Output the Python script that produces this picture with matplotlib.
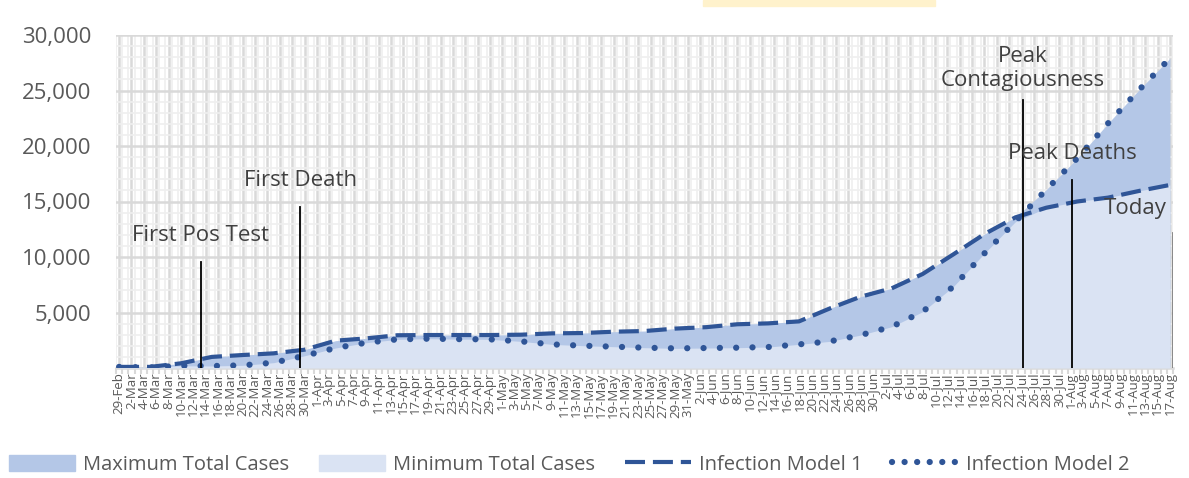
import matplotlib
matplotlib.use('Agg')
import matplotlib.pyplot as plt
from matplotlib.patches import Patch, Rectangle
from matplotlib.lines import Line2D
import numpy as np
import pandas as pd

plt.rcParams['font.family'] = ['Open Sans', 'DejaVu Sans']

# %% data
dates = pd.date_range('2020-02-29', '2020-08-17', freq='D')
labels = [f"{d.day}-{d.strftime('%b')}" for d in dates]

# values read every 5 days (day index from 29-Feb)
day_idx = [0, 5, 10, 15, 20, 25, 30, 35, 40, 45, 50, 55, 60, 65, 70, 75, 80, 85,
           90, 95, 100, 105, 110, 115, 120, 125, 130, 135, 140, 145, 150, 155,
           160, 165, 170]
model_1 = [100, 100, 420, 1000, 1170, 1320, 1650, 2460, 2670, 2950, 2970, 2970,
           2970, 3000, 3120, 3150, 3270, 3330, 3550, 3680, 3940, 4020, 4200,
           5370, 6430, 7180, 8470, 10250, 12070, 13570, 14440, 15000, 15350,
           15950, 16490]
model_2 = [100, 50, 200, 180, 240, 480, 1100, 1800, 2280, 2580, 2640, 2600,
           2580, 2400, 2130, 2010, 1920, 1830, 1770, 1800, 1830, 1890, 2130,
           2400, 2970, 3720, 5070, 7360, 10330, 13180, 16070, 18890, 22050,
           25050, 27900]

# event markers: day index and top of the marker line
events = {'First Pos Test': (13.2, 9550), 'First Death': (29.3, 14500),
          'Peak Contagiousness': (146.2, 24100), 'Peak Deaths': (154.2, 16900),
          'Today': (170.5, 12150)}

x = np.array(day_idx)
m1 = np.array(model_1)
m2 = np.array(model_2)
max_cases = np.maximum(m1, m2)
min_cases = np.minimum(m1, m2)

dark = '#2f5597'
txt = '#404040'
dash1 = (0, (4.8, 1.9))
dots = (0, (0.01, 2.6))

# %% figure
fig = plt.figure(figsize=(11.89, 4.78), dpi=100)
ax = fig.add_axes([116/1189, 1-368/478, (1173-116)/1189, (368-35)/478])
fig.patches.append(Rectangle((703/1189, 1-6/478), 232/1189, 6/478,
                             transform=fig.transFigure, color='#fff2cc', zorder=0))

ax.fill_between(x, 0, max_cases, color='#b4c7e7', lw=0, zorder=2)
ax.fill_between(x, 0, min_cases, color='#dae3f3', lw=0, zorder=3)
ax.plot(x, m1, color=dark, lw=3, ls=dash1, dash_capstyle='butt', zorder=5)
ax.plot(x, m2, color=dark, lw=4.5, ls=dots, dash_capstyle='round', zorder=5)

# event lines
for name, (d, top) in events.items():
    col = '#7f7f7f' if name == 'Today' else 'black'
    w = 2 if name == 'Today' else 1.3
    ax.plot([d, d], [0, top], color=col, lw=w, zorder=6)

fs = 16
ax.text(13.2, 11900, 'First Pos Test', ha='center', va='center', fontsize=fs, color=txt, zorder=7)
ax.text(29.3, 16850, 'First Death', ha='center', va='center', fontsize=fs, color=txt, zorder=7)
ax.text(146.2, 26950, 'Peak\nContagiousness', ha='center', va='center', fontsize=fs,
        color=txt, linespacing=1.2, zorder=7)
ax.text(154.2, 19280, 'Peak Deaths', ha='center', va='center', fontsize=fs, color=txt, zorder=7)
ax.text(164.4, 14400, 'Today', ha='center', va='center', fontsize=fs, color=txt, zorder=7)

# axes, grid
ax.set_xlim(-0.5, 170.5)
ax.set_ylim(0, 30000)
ax.set_yticks(np.arange(5000, 30001, 5000))
ax.set_yticklabels([f'{v:,}' for v in range(5000, 30001, 5000)], fontsize=fs, color='#595959')
ax.set_yticks(np.arange(0, 30001, 1000), minor=True)
ax.set_xticks(np.arange(0, len(labels), 2))
ax.set_xticklabels(labels[::2], rotation=90, fontsize=9.5, color='#595959')
ax.set_xticks(np.arange(-0.5, len(labels), 1), minor=True)
ax.grid(which='major', color='#d9d9d9', lw=1.8, zorder=0)
ax.grid(which='minor', color='#efefef', lw=1.2, zorder=0)
ax.set_axisbelow(True)
ax.tick_params(axis='y', which='both', length=0, pad=18)
ax.tick_params(axis='x', which='major', length=0, pad=3)
ax.tick_params(axis='x', which='minor', length=4, color='#d9d9d9', width=1.5)
for s in ['top', 'right', 'left']:
    ax.spines[s].set_visible(False)
ax.spines['bottom'].set_color('#d9d9d9')
ax.spines['bottom'].set_linewidth(1.8)

handles = [Patch(color='#b4c7e7', label='Maximum Total Cases'),
           Patch(color='#dae3f3', label='Minimum Total Cases'),
           Line2D([], [], color=dark, lw=3, ls=dash1, label='Infection Model 1'),
           Line2D([], [], color=dark, lw=4.5, ls=(0, (0.01, 2.0)), dash_capstyle='round',
                  label='Infection Model 2')]
fig.legend(handles=handles, loc='lower left', bbox_to_anchor=(0.005, 0.0), ncol=4,
           frameon=False, fontsize=14.5, labelcolor='#595959', handlelength=3.3,
           handleheight=0.9, columnspacing=1.45, handletextpad=0.4, borderpad=0.1,
           borderaxespad=0.05)

fig.savefig('out.png', dpi=100)
